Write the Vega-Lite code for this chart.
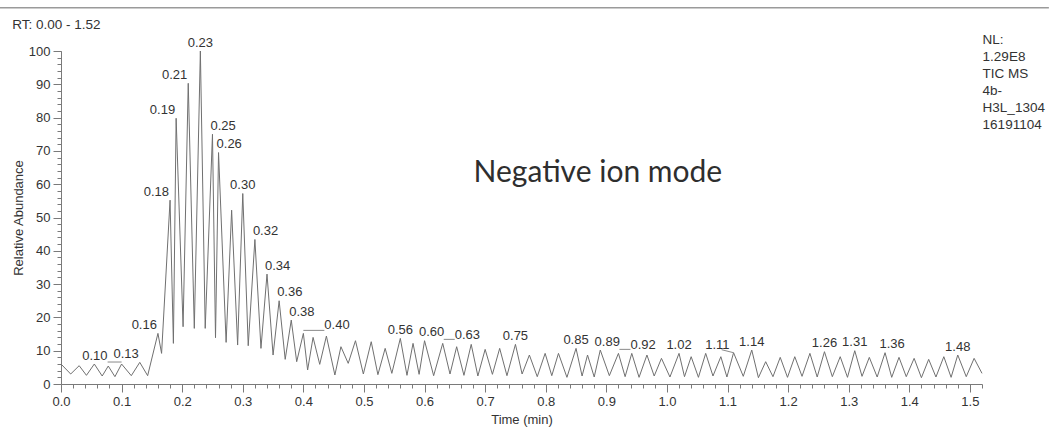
{
  "$schema": "https://vega.github.io/schema/vega-lite/v6.json",
  "width": 921,
  "height": 333,
  "autosize": {"type": "none"},
  "padding": {"left": 61, "top": 51, "right": 67, "bottom": 45},
  "background": "#ffffff",
  "config": {
    "view": {"stroke": null},
    "font": "Liberation Sans",
    "axis": {
      "grid": false,
      "domainColor": "#7a7a7a",
      "tickColor": "#7a7a7a",
      "labelColor": "#333333",
      "titleColor": "#333333",
      "labelFont": "Liberation Sans",
      "titleFont": "Liberation Sans",
      "labelFontSize": 13,
      "titleFontSize": 13,
      "titleFontWeight": "normal",
      "labelFlush": false,
      "labelOverlap": false
    },
    "text": {"font": "Liberation Sans", "fontSize": 13, "color": "#333333"}
  },
  "datasets": {
    "tic": [
      {"t": 0.000, "ab": 6.0}, {"t": 0.016, "ab": 3.0}, {"t": 0.030, "ab": 5.5}, {"t": 0.042, "ab": 2.6},
      {"t": 0.055, "ab": 6.0}, {"t": 0.068, "ab": 2.4}, {"t": 0.078, "ab": 5.4}, {"t": 0.089, "ab": 2.2},
      {"t": 0.100, "ab": 6.0}, {"t": 0.116, "ab": 2.5}, {"t": 0.130, "ab": 6.5}, {"t": 0.143, "ab": 2.5},
      {"t": 0.160, "ab": 15.2}, {"t": 0.166, "ab": 9.2}, {"t": 0.180, "ab": 55.2}, {"t": 0.1855, "ab": 12.2},
      {"t": 0.190, "ab": 79.8}, {"t": 0.2015, "ab": 17.2}, {"t": 0.210, "ab": 90.3}, {"t": 0.220, "ab": 16.7},
      {"t": 0.230, "ab": 100.0}, {"t": 0.238, "ab": 16.7}, {"t": 0.250, "ab": 75.0}, {"t": 0.255, "ab": 13.9},
      {"t": 0.260, "ab": 69.5}, {"t": 0.2725, "ab": 12.5}, {"t": 0.2816, "ab": 52.2}, {"t": 0.2915, "ab": 11.7},
      {"t": 0.300, "ab": 57.2}, {"t": 0.309, "ab": 11.5}, {"t": 0.320, "ab": 43.4}, {"t": 0.330, "ab": 10.7},
      {"t": 0.340, "ab": 33.0}, {"t": 0.350, "ab": 8.7}, {"t": 0.360, "ab": 25.0}, {"t": 0.370, "ab": 7.4},
      {"t": 0.380, "ab": 19.2}, {"t": 0.389, "ab": 6.7}, {"t": 0.400, "ab": 15.2}, {"t": 0.407, "ab": 4.2},
      {"t": 0.416, "ab": 14.0}, {"t": 0.427, "ab": 5.9}, {"t": 0.438, "ab": 14.4}, {"t": 0.452, "ab": 2.7},
      {"t": 0.462, "ab": 11.2}, {"t": 0.474, "ab": 6.2}, {"t": 0.486, "ab": 13.0}, {"t": 0.499, "ab": 3.0},
      {"t": 0.512, "ab": 12.7}, {"t": 0.523, "ab": 2.8}, {"t": 0.535, "ab": 10.7}, {"t": 0.546, "ab": 3.2},
      {"t": 0.560, "ab": 13.7}, {"t": 0.571, "ab": 2.6}, {"t": 0.581, "ab": 12.2}, {"t": 0.591, "ab": 2.9},
      {"t": 0.600, "ab": 13.0}, {"t": 0.615, "ab": 2.5}, {"t": 0.630, "ab": 12.2}, {"t": 0.642, "ab": 3.0},
      {"t": 0.653, "ab": 11.2}, {"t": 0.665, "ab": 2.6}, {"t": 0.677, "ab": 11.9}, {"t": 0.688, "ab": 2.4},
      {"t": 0.700, "ab": 10.4}, {"t": 0.712, "ab": 2.9}, {"t": 0.724, "ab": 10.7}, {"t": 0.736, "ab": 2.5},
      {"t": 0.750, "ab": 11.9}, {"t": 0.761, "ab": 3.0}, {"t": 0.773, "ab": 8.7}, {"t": 0.786, "ab": 2.2},
      {"t": 0.799, "ab": 9.2}, {"t": 0.810, "ab": 2.5}, {"t": 0.821, "ab": 9.2}, {"t": 0.835, "ab": 2.0},
      {"t": 0.850, "ab": 10.7}, {"t": 0.860, "ab": 2.4}, {"t": 0.869, "ab": 8.7}, {"t": 0.880, "ab": 2.1},
      {"t": 0.890, "ab": 10.2}, {"t": 0.905, "ab": 2.5}, {"t": 0.920, "ab": 9.2}, {"t": 0.931, "ab": 2.2},
      {"t": 0.942, "ab": 9.2}, {"t": 0.954, "ab": 2.0}, {"t": 0.967, "ab": 8.7}, {"t": 0.979, "ab": 2.4},
      {"t": 0.991, "ab": 7.7}, {"t": 1.005, "ab": 2.1}, {"t": 1.020, "ab": 9.2}, {"t": 1.029, "ab": 2.2},
      {"t": 1.040, "ab": 8.2}, {"t": 1.052, "ab": 2.0}, {"t": 1.064, "ab": 9.2}, {"t": 1.076, "ab": 2.4},
      {"t": 1.089, "ab": 8.2}, {"t": 1.099, "ab": 2.1}, {"t": 1.110, "ab": 9.4}, {"t": 1.126, "ab": 2.3},
      {"t": 1.140, "ab": 10.2}, {"t": 1.151, "ab": 1.9}, {"t": 1.163, "ab": 6.7}, {"t": 1.175, "ab": 2.2},
      {"t": 1.187, "ab": 8.0}, {"t": 1.199, "ab": 2.0}, {"t": 1.211, "ab": 8.2}, {"t": 1.223, "ab": 2.3},
      {"t": 1.236, "ab": 9.2}, {"t": 1.248, "ab": 2.1}, {"t": 1.260, "ab": 9.7}, {"t": 1.273, "ab": 2.2},
      {"t": 1.286, "ab": 8.2}, {"t": 1.298, "ab": 2.0}, {"t": 1.310, "ab": 10.0}, {"t": 1.322, "ab": 2.3},
      {"t": 1.334, "ab": 8.0}, {"t": 1.347, "ab": 2.1}, {"t": 1.360, "ab": 9.4}, {"t": 1.371, "ab": 2.0},
      {"t": 1.383, "ab": 8.0}, {"t": 1.395, "ab": 2.2}, {"t": 1.408, "ab": 7.7}, {"t": 1.420, "ab": 1.9},
      {"t": 1.432, "ab": 7.4}, {"t": 1.444, "ab": 2.1}, {"t": 1.457, "ab": 8.2}, {"t": 1.469, "ab": 2.0},
      {"t": 1.480, "ab": 8.7}, {"t": 1.494, "ab": 2.2}, {"t": 1.507, "ab": 7.7}, {"t": 1.520, "ab": 3.2}
    ]
  },
  "data": {"name": "tic"},
  "layer": [
    {
      "mark": {"type": "line", "stroke": "#707070", "strokeWidth": 1, "strokeJoin": "round"},
      "encoding": {
        "x": {
          "field": "t", "type": "quantitative",
          "scale": {"domain": [0, 1.52], "nice": false, "zero": false},
          "axis": {
            "orient": "bottom",
            "title": "Time (min)",
            "values": [0, 0.1, 0.2, 0.3, 0.4, 0.5, 0.6, 0.7, 0.8, 0.9, 1.0, 1.1, 1.2, 1.3, 1.4, 1.5],
            "format": ".1f", "tickSize": 8, "labelPadding": 3, "titlePadding": 5
          }
        },
        "y": {
          "field": "ab", "type": "quantitative",
          "scale": {"domain": [0, 100], "nice": false},
          "axis": {
            "orient": "left",
            "title": "Relative Abundance",
            "values": [0, 10, 20, 30, 40, 50, 60, 70, 80, 90, 100],
            "tickSize": 8, "labelPadding": 3, "titlePadding": 3
          }
        }
      }
    },
    {
      "mark": {"type": "line", "strokeOpacity": 0},
      "encoding": {
        "x": {"field": "t", "type": "quantitative",
          "axis": {"orient": "bottom", "title": null, "labels": false, "domain": false, "tickCount": 76, "tickSize": 4}},
        "y": {"field": "ab", "type": "quantitative",
          "axis": {"orient": "left", "title": null, "labels": false, "domain": false, "tickCount": 50, "tickSize": 4}}
      }
    },
    {
      "transform": [{"filter": {"field": "t", "oneOf": [0.23, 0.3, 0.56, 0.75, 0.85, 1.02, 1.14, 1.26, 1.31, 1.48]}}],
      "mark": {"type": "text", "align": "center", "baseline": "bottom", "dy": -1.5},
      "encoding": {
        "x": {"field": "t", "type": "quantitative", "axis": null},
        "y": {"field": "ab", "type": "quantitative", "axis": null},
        "text": {"field": "t", "type": "quantitative", "format": ".2f"}
      }
    },
    {
      "transform": [{"filter": {"field": "t", "oneOf": [0.6, 0.89, 1.36]}}],
      "mark": {"type": "text", "align": "center", "baseline": "bottom", "dy": -1.5, "dx": 7},
      "encoding": {
        "x": {"field": "t", "type": "quantitative", "axis": null},
        "y": {"field": "ab", "type": "quantitative", "axis": null},
        "text": {"field": "t", "type": "quantitative", "format": ".2f"}
      }
    },
    {
      "transform": [{"filter": {"field": "t", "oneOf": [0.13, 0.16, 0.18, 0.19, 0.21]}}],
      "mark": {"type": "text", "align": "right", "baseline": "bottom", "dy": -1.5, "dx": -1},
      "encoding": {
        "x": {"field": "t", "type": "quantitative", "axis": null},
        "y": {"field": "ab", "type": "quantitative", "axis": null},
        "text": {"field": "t", "type": "quantitative", "format": ".2f"}
      }
    },
    {
      "transform": [{"filter": {"field": "t", "oneOf": [0.25, 0.26, 0.32, 0.34, 0.36, 0.38]}}],
      "mark": {"type": "text", "align": "left", "baseline": "bottom", "dy": -1.5, "dx": -2},
      "encoding": {
        "x": {"field": "t", "type": "quantitative", "axis": null},
        "y": {"field": "ab", "type": "quantitative", "axis": null},
        "text": {"field": "t", "type": "quantitative", "format": ".2f"}
      }
    },
    {
      "transform": [{"filter": {"field": "t", "oneOf": [0.4]}}],
      "mark": {"type": "text", "align": "left", "baseline": "bottom", "dy": -1.5, "dx": 21},
      "encoding": {
        "x": {"field": "t", "type": "quantitative", "axis": null},
        "y": {"field": "ab", "type": "quantitative", "axis": null},
        "text": {"field": "t", "type": "quantitative", "format": ".2f"}
      }
    },
    {
      "transform": [{"filter": {"field": "t", "oneOf": [0.63, 0.92]}}],
      "mark": {"type": "text", "align": "left", "baseline": "bottom", "dy": -1.5, "dx": 12},
      "encoding": {
        "x": {"field": "t", "type": "quantitative", "axis": null},
        "y": {"field": "ab", "type": "quantitative", "axis": null},
        "text": {"field": "t", "type": "quantitative", "format": ".2f"}
      }
    },
    {
      "transform": [{"filter": {"field": "t", "oneOf": [0.1]}}],
      "mark": {"type": "text", "align": "right", "baseline": "bottom", "dy": -1.5, "dx": -14},
      "encoding": {
        "x": {"field": "t", "type": "quantitative", "axis": null},
        "y": {"field": "ab", "type": "quantitative", "axis": null},
        "text": {"field": "t", "type": "quantitative", "format": ".2f"}
      }
    },
    {
      "transform": [{"filter": {"field": "t", "oneOf": [1.11]}}],
      "mark": {"type": "text", "align": "right", "baseline": "bottom", "dy": -0.5, "dx": -4},
      "encoding": {
        "x": {"field": "t", "type": "quantitative", "axis": null},
        "y": {"field": "ab", "type": "quantitative", "axis": null},
        "text": {"field": "t", "type": "quantitative", "format": ".2f"}
      }
    },
    {
      "transform": [{"filter": {"field": "t", "oneOf": [0.4]}}],
      "mark": {"type": "rule", "stroke": "#8a8a8a", "strokeWidth": 1, "xOffset": 0, "x2Offset": 21, "yOffset": -3},
      "encoding": {
        "x": {"field": "t", "type": "quantitative", "axis": null},
        "x2": {"field": "t"},
        "y": {"field": "ab", "type": "quantitative", "axis": null}
      }
    },
    {
      "transform": [{"filter": {"field": "t", "oneOf": [0.63, 0.92]}}],
      "mark": {"type": "rule", "stroke": "#8a8a8a", "strokeWidth": 1, "xOffset": 1, "x2Offset": 12, "yOffset": -4},
      "encoding": {
        "x": {"field": "t", "type": "quantitative", "axis": null},
        "x2": {"field": "t"},
        "y": {"field": "ab", "type": "quantitative", "axis": null}
      }
    },
    {
      "transform": [{"filter": {"field": "t", "oneOf": [0.1]}}],
      "mark": {"type": "rule", "stroke": "#8a8a8a", "strokeWidth": 1, "xOffset": -14, "x2Offset": 0, "yOffset": -2},
      "encoding": {
        "x": {"field": "t", "type": "quantitative", "axis": null},
        "x2": {"field": "t"},
        "y": {"field": "ab", "type": "quantitative", "axis": null}
      }
    },
    {
      "transform": [{"filter": {"field": "t", "oneOf": [1.11]}}],
      "mark": {"type": "rule", "stroke": "#8a8a8a", "strokeWidth": 1, "xOffset": -12, "x2Offset": 0, "yOffset": -3, "y2Offset": 0},
      "encoding": {
        "x": {"field": "t", "type": "quantitative", "axis": null},
        "x2": {"field": "t"},
        "y": {"field": "ab", "type": "quantitative", "axis": null},
        "y2": {"field": "ab"}
      }
    },
    {
      "data": {"values": [{"note": "Negative ion mode"}]},
      "mark": {"type": "text", "font": "Lato", "fontSize": 30, "align": "center", "baseline": "middle", "color": "#2e2e2e"},
      "encoding": {
        "x": {"datum": 0.886, "type": "quantitative", "axis": null},
        "y": {"datum": 63.4, "type": "quantitative", "axis": null},
        "text": {"field": "note"}
      }
    },
    {
      "data": {"values": [{"note": "RT: 0.00 - 1.52"}]},
      "mark": {"type": "text", "align": "left", "baseline": "middle", "fontSize": 13.5, "color": "#333333"},
      "encoding": {
        "x": {"datum": -0.0804, "type": "quantitative", "axis": null},
        "y": {"datum": 107.9, "type": "quantitative", "axis": null},
        "text": {"field": "note"}
      }
    },
    {
      "data": {"values": [{"note": ["NL:", "1.29E8", "TIC  MS", "4b-", "H3L_1304", "16191104"]}]},
      "mark": {"type": "text", "align": "left", "baseline": "top", "fontSize": 13.5, "lineHeight": 17, "color": "#333333"},
      "encoding": {
        "x": {"datum": 1.521, "type": "quantitative", "axis": null},
        "y": {"datum": 105.3, "type": "quantitative", "axis": null},
        "text": {"field": "note"}
      }
    },
    {
      "data": {"values": [{"edge": "top"}]},
      "mark": {"type": "rule", "stroke": "#9a9a9a", "strokeWidth": 1.5},
      "encoding": {
        "x": {"datum": -0.1007, "type": "quantitative", "axis": null},
        "x2": {"datum": 1.6304},
        "y": {"datum": 113.0, "type": "quantitative", "axis": null}
      }
    }
  ],
  "resolve": {"axis": {"x": "independent", "y": "independent"}}
}
